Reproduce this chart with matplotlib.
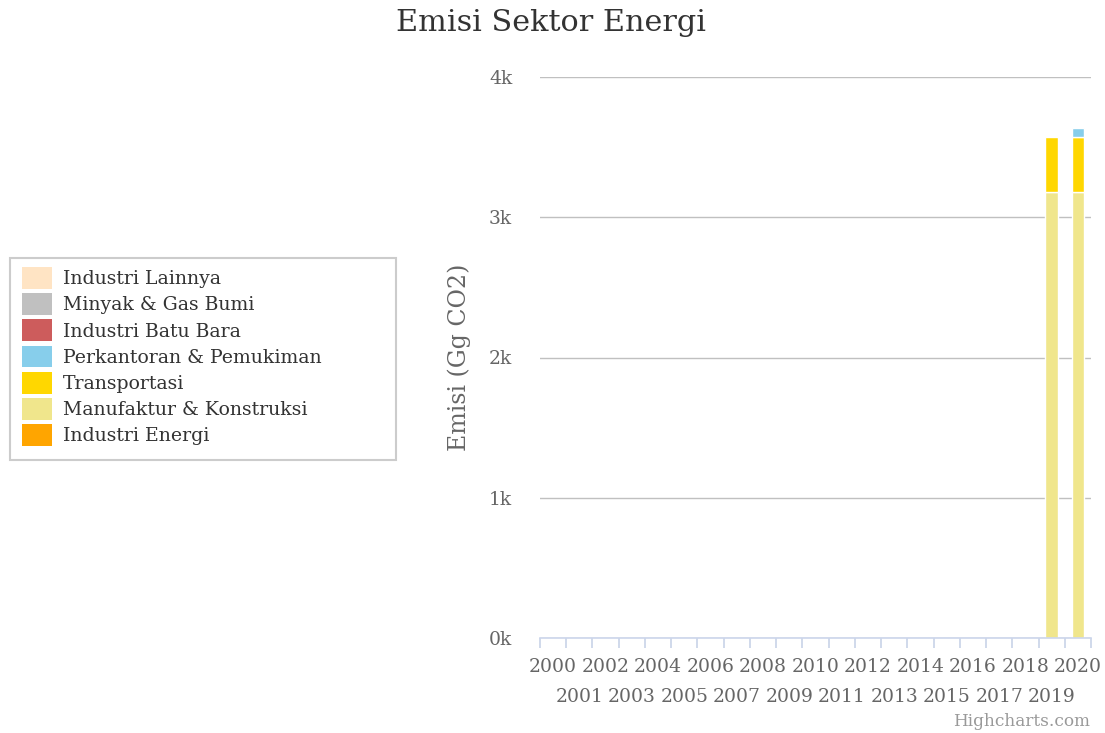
import matplotlib
matplotlib.use("Agg")
import matplotlib.pyplot as plt
from matplotlib.patches import Patch, Rectangle
import numpy as np

years = [str(y) for y in range(2000, 2021)]
# series in legend order (Highcharts stacks first series on top)
series_names = ["Industri Lainnya", "Minyak & Gas Bumi", "Industri Batu Bara",
                "Perkantoran & Pemukiman", "Transportasi",
                "Manufaktur & Konstruksi", "Industri Energi"]
colors = ["#ffe4c4", "#c0c0c0", "#cd5c5c", "#87ceeb", "#ffd700", "#f0e68c", "#ffa500"]

industri_lainnya = [0]*21
minyak_gas = [0]*21
batu_bara = [0]*21
perkantoran = [0]*19 + [0, 66]
transportasi = [0]*19 + [390, 390]
manufaktur = [0]*19 + [3180, 3180]
industri_energi = [0]*21

values = [industri_lainnya, minyak_gas, batu_bara, perkantoran,
          transportasi, manufaktur, industri_energi]

plt.rcParams['font.family'] = ['DejaVu Serif']

W, H = 1105, 733
fig = plt.figure(figsize=(W/100, H/100), dpi=100)
ax = fig.add_axes([540/W, 1-638/H, 551/W, 561/H])

x = np.arange(len(years))
bottom = np.zeros(len(years))
for name, col, vals in reversed(list(zip(series_names, colors, values))):
    v = np.array(vals, dtype=float)
    m = v > 0
    if m.any():
        ax.bar(x[m], v[m], width=0.48, bottom=bottom[m], color=col,
               edgecolor="white", linewidth=1, zorder=3)
    bottom += v

ax.set_xlim(-0.5, len(years) - 0.5)
ax.set_ylim(0, 4000)
ax.set_yticks([0, 1000, 2000, 3000, 4000])
ax.set_yticklabels(["0k", "1k", "2k", "3k", "4k"])
ax.tick_params(axis="y", length=0, pad=20, labelsize=13.5, labelcolor="#666666")
ax.grid(axis="y", color="#c0c0c0", linewidth=1, zorder=0)
for s in ["top", "right", "left"]:
    ax.spines[s].set_visible(False)
ax.spines["bottom"].set_color("#ccd6eb")
ax.spines["bottom"].set_linewidth(1.2)
ax.spines["bottom"].set_zorder(4)

# category boundary ticks
ax.set_xticks(np.arange(-0.5, len(years), 1.0))
ax.set_xticklabels([])
ax.tick_params(axis="x", direction="out", length=7.5, width=1.1, color="#c4d0e6")
# staggered labels
for i, yr in enumerate(years):
    yoff = -29 if i % 2 == 0 else -59
    ax.annotate(yr, xy=(i, 0), xycoords=("data", "axes fraction"),
                xytext=(0, yoff), textcoords="offset pixels",
                ha="center", va="center", fontsize=13.5, color="#666666")

ax.set_ylabel("Emisi (Gg CO2)", fontsize=17, color="#666666", va="center")
ax.yaxis.set_label_coords((459-540)/551, 0.5)

fig.text(551/W, 1-23/H, "Emisi Sektor Energi", ha="center", va="center",
         fontsize=21.8, color="#333333")

# legend frame
fig.patches.append(Rectangle((10/W, 1-460/H), 386/W, 202/H,
                             transform=fig.transFigure, fill=False,
                             edgecolor="#cccccc", linewidth=1.5))
handles = [Patch(facecolor=c, edgecolor="none", linewidth=0) for c in colors]
leg = fig.legend(handles, series_names, loc="upper left",
                 bbox_to_anchor=(14.5/W, 1-259.5/H), fontsize=13.6,
                 frameon=False, handlelength=1.58, handleheight=1.40,
                 labelspacing=0.23, handletextpad=0.58, borderpad=0.4,
                 borderaxespad=0)
for t in leg.get_texts():
    t.set_color("#333333")

fig.text(1090/W, 1-721/H, "Highcharts.com", ha="right", va="center",
         fontsize=12.2, color="#999999")

fig.savefig("out.png", dpi=100, facecolor="white")
